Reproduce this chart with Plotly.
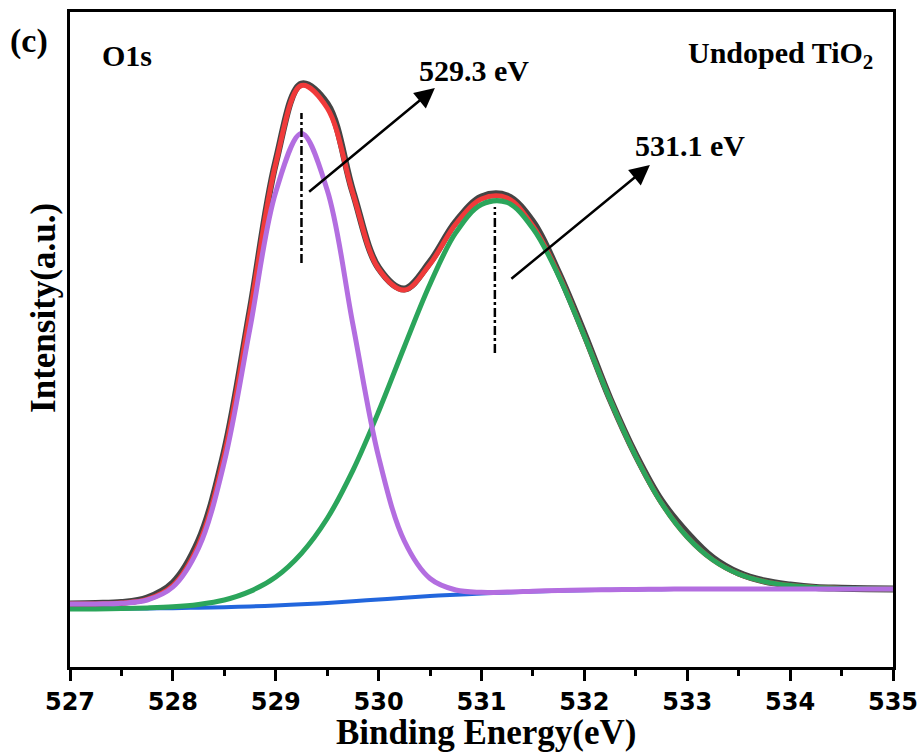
import plotly.graph_objects as go

# Binding energy grid (eV)
energy = [527.0, 527.25, 527.5, 527.75, 528.0, 528.25, 528.5, 528.75, 529.0, 529.25,
          529.5, 529.75, 530.0, 530.25, 530.5, 530.75, 531.0, 531.25, 531.5, 531.75,
          532.0, 532.25, 532.5, 532.75, 533.0, 533.25, 533.5, 533.75, 534.0, 534.25,
          534.5, 534.75, 535.0]

# Intensity (a.u.)
raw_data = [63, 63.5, 64.5, 69, 84, 126, 215, 356, 505, 583,
            563, 475, 399, 378, 405, 445, 470, 471, 445, 394,
            333, 268, 212, 166, 134, 109, 94, 86, 82, 79.5,
            78.8, 78.3, 78]
fit_sum = [63, 63.1, 63.9, 67.6, 81.4, 122.3, 212.2, 354, 503.5, 581.5,
           559, 473.5, 398, 377, 403, 443, 468, 469, 441, 392.5,
           331, 267.3, 210.6, 163.8, 130, 107, 93, 85.4, 81.4, 79.4,
           78.6, 78.2, 78]
background = [58, 58.1, 58.3, 58.5, 58.8, 59.3, 59.8, 60.6, 61.5, 62.7,
              64, 65.7, 67.5, 69.3, 71, 72.3, 73.5, 74.5, 75.5, 76.2,
              76.8, 77.2, 77.5, 77.8, 78, 78, 78, 78, 78, 78,
              78, 78, 78]
peak_529 = [63, 63.1, 63.7, 67, 80, 119, 205, 339, 475, 533.5,
            477, 342.5, 210, 126, 88.5, 77, 74.7, 75, 75.8, 76.5,
            77, 77.3, 77.6, 77.8, 78, 78, 78, 78, 78, 78,
            78, 78, 78]
peak_531 = [58, 58.1, 58.5, 59.1, 60.2, 62.6, 67, 75.6, 90, 113.7,
            148.5, 196.7, 255.5, 320.3, 383, 434.3, 462.5, 464.5, 438.5, 391.2,
            330.8, 267.2, 210.5, 163.8, 130, 107, 93, 85.4, 81.4, 79.4,
            78.6, 78.2, 78]

peak_positions = [529.25, 531.13]
marker_top = [554, 460]
marker_bottom = [404, 314]
peak_labels = ["529.3 eV", "531.1 eV"]
arrow_tail = [(529.31, 474), (531.276, 387)]
arrow_head = [(530.547, 579), (532.637, 502)]
label_pos = [(530.93, 597), (533.03, 522)]

x_ticks = [527, 528, 529, 530, 531, 532, 533, 534, 535]

serif = "Liberation Serif"
sans = "DejaVu Sans"

fig = go.Figure()
sm = 1.0
fig.add_trace(go.Scatter(x=energy, y=raw_data, mode="lines",
                         line=dict(color="#444444", width=7, shape="spline", smoothing=sm)))
fig.add_trace(go.Scatter(x=energy, y=fit_sum, mode="lines",
                         line=dict(color="#f03a3a", width=5, shape="spline", smoothing=sm)))
fig.add_trace(go.Scatter(x=energy, y=background, mode="lines",
                         line=dict(color="#2266dd", width=4, shape="spline", smoothing=sm)))
fig.add_trace(go.Scatter(x=energy, y=peak_531, mode="lines",
                         line=dict(color="#2ba55b", width=5, shape="spline", smoothing=sm)))
fig.add_trace(go.Scatter(x=energy, y=peak_529, mode="lines",
                         line=dict(color="#b36ee0", width=5, shape="spline", smoothing=sm)))

for px, yt, yb in zip(peak_positions, marker_top, marker_bottom):
    fig.add_trace(go.Scatter(x=[px, px], y=[yb, yt], mode="lines",
                             line=dict(color="black", width=2.5, dash="dashdot")))

for (tx, ty), (hx, hy) in zip(arrow_tail, arrow_head):
    fig.add_annotation(x=hx, y=hy, ax=tx, ay=ty, xref="x", yref="y", axref="x", ayref="y",
                       showarrow=True, arrowhead=2, arrowsize=1.6, arrowwidth=2.5,
                       arrowcolor="black", text="")

for (lx, ly), txt in zip(label_pos, peak_labels):
    fig.add_annotation(x=lx, y=ly, xref="x", yref="y", text="<b>" + txt + "</b>", showarrow=False,
                       font=dict(family=serif, size=30, color="black"))

fig.add_annotation(x=0.036, y=0.933, xref="paper", yref="paper", xanchor="left", yanchor="middle",
                   text="<b>O1s</b>", showarrow=False,
                   font=dict(family=serif, size=30, color="black"))
fig.add_annotation(x=0.978, y=0.934, xref="paper", yref="paper", xanchor="right", yanchor="middle",
                   text="<b>Undoped TiO<sub style='font-size:28px'>2</sub></b>", showarrow=False,
                   font=dict(family=serif, size=30, color="black"))
fig.add_annotation(x=-0.075, y=0.955, xref="paper", yref="paper", xanchor="left", yanchor="middle",
                   text="<b>(c)</b>", showarrow=False,
                   font=dict(family=serif, size=34, color="black"))
fig.add_annotation(x=-0.033, y=0.548, xref="paper", yref="paper", xanchor="center", yanchor="middle",
                   text="<b>Intensity(a.u.)</b>", textangle=-90, showarrow=False,
                   font=dict(family=serif, size=35, color="black"))
fig.add_annotation(x=0.505, y=-0.1, xref="paper", yref="paper", xanchor="center", yanchor="middle",
                   text="<b>Binding Energy(eV)</b>", showarrow=False,
                   font=dict(family=serif, size=35, color="black"))

fig.update_layout(
    width=923, height=754,
    margin=dict(l=70, r=30, t=12, b=87),
    paper_bgcolor="white", plot_bgcolor="white",
    showlegend=False,
    xaxis=dict(range=[527, 535], tickvals=x_ticks, ticktext=["<b>%d</b>" % t for t in x_ticks],
               showgrid=False, zeroline=False, showline=True, linecolor="black", linewidth=3,
               mirror=True, ticks="outside", ticklen=11, tickwidth=3, tickcolor="black",
               minor=dict(ticks="outside", ticklen=6, tickwidth=3, tickcolor="black", dtick=0.5),
               tickfont=dict(family=sans, size=24, color="black"), automargin=False),
    yaxis=dict(range=[0, 655], showgrid=False, zeroline=False, showline=True,
               linecolor="black", linewidth=3, mirror=True, showticklabels=False, ticks="",
               automargin=False),
)

fig.write_html("out.html")
